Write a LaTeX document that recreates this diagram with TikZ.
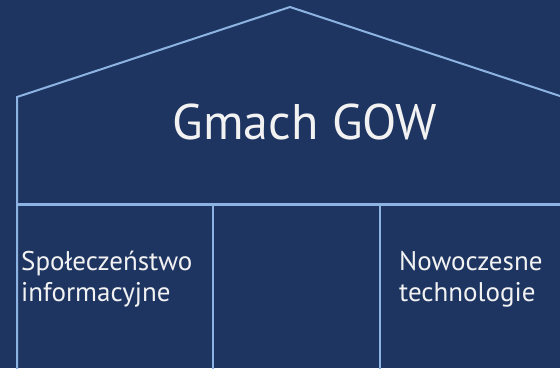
\documentclass[tikz,border=0pt]{standalone}
\usepackage{fontspec}
\setmainfont{PT Sans}
\definecolor{bg}{HTML}{1E3562}
\definecolor{ln}{HTML}{8DB3E2}
\definecolor{tx}{HTML}{F2F2F2}
\begin{document}
\begin{tikzpicture}[x=1pt,y=-1pt,
  wall/.style={draw=ln,line width=2pt},
  lbl/.style={text=tx,inner sep=0pt,anchor=base west,font=\fontsize{27}{31}\selectfont,align=left}]
\useasboundingbox[fill=bg] (0,0) rectangle (560,368);
\coordinate (le) at (17,97);
\coordinate (pk) at (290,7);
\coordinate (re) at (563,97);
\coordinate (lb) at (17,370);
\coordinate (hl) at (17,204);
\coordinate (hr) at (562,204);
\coordinate (v1t) at (213,204);
\coordinate (v1b) at (213,370);
\coordinate (v2t) at (380,204);
\coordinate (v2b) at (380,370);
\draw[wall,line join=miter] (lb) -- (le) -- (pk) -- (re);
\draw[draw=ln,line width=3pt] (hl) -- (hr);
\draw[wall] (v1t) -- (v1b);
\draw[wall] (v2t) -- (v2b);
\node[text=tx,inner sep=0pt,anchor=base,font=\fontsize{50}{60}\selectfont] (title) at (305,139) {Gmach GOW};
\node[lbl] (s) at (21,301) {Społeczeństwo\\informacyjne};
\node[lbl] (n) at (399,301) {Nowoczesne\\technologie};
\end{tikzpicture}
\end{document}
